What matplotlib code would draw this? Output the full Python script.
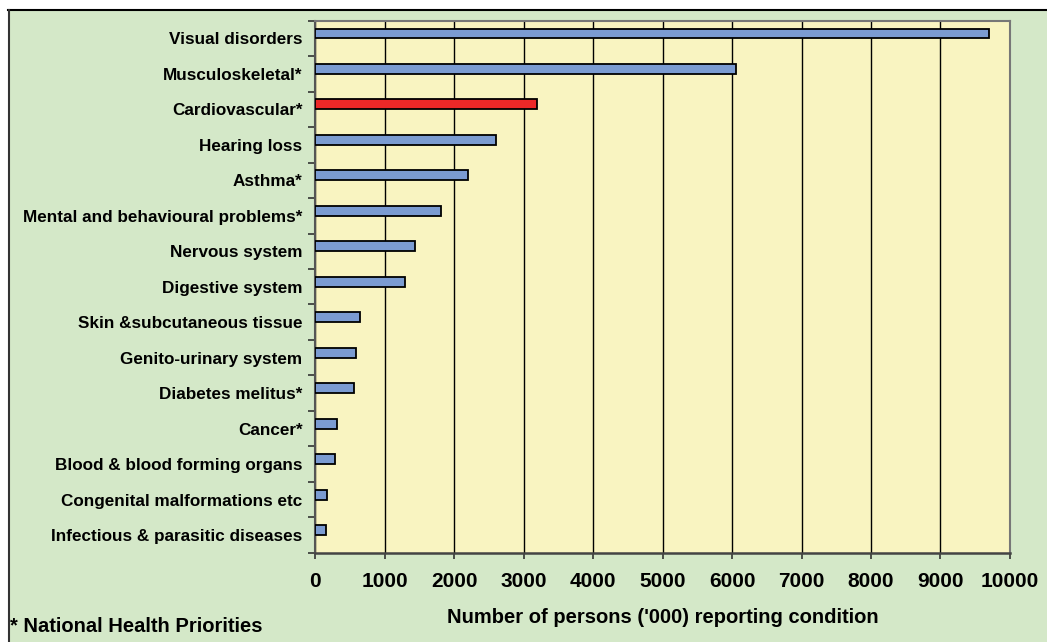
import matplotlib
matplotlib.use("Agg")
import matplotlib.pyplot as plt
import numpy as np

plt.rcParams['font.family'] = ['Liberation Sans', 'DejaVu Sans']

conditions = [
    "Visual disorders",
    "Musculoskeletal*",
    "Cardiovascular*",
    "Hearing loss",
    "Asthma*",
    "Mental and behavioural problems*",
    "Nervous system",
    "Digestive system",
    "Skin &subcutaneous tissue",
    "Genito-urinary system",
    "Diabetes melitus*",
    "Cancer*",
    "Blood & blood forming organs",
    "Congenital malformations etc",
    "Infectious & parasitic diseases",
]
persons_000 = [9700, 6060, 3190, 2600, 2200, 1820, 1440, 1300,
               650, 595, 555, 315, 290, 175, 160]
highlight = "Cardiovascular*"
x_ticks = [0, 1000, 2000, 3000, 4000, 5000, 6000, 7000, 8000, 9000, 10000]

bg_green = "#d4e8c8"
plot_yellow = "#f9f4c1"
bar_blue = "#7b9bd1"
bar_red = "#ec2828"

fig = plt.figure(figsize=(10.47, 6.42), dpi=100, facecolor=bg_green)
W, H = 1047, 642
ax = fig.add_axes([315 / W, 1 - 552.7 / H, (1010 - 315) / W, (552.7 - 20.7) / H])
ax.set_facecolor(plot_yellow)

n = len(conditions)
ypos = np.arange(n)
bar_shift = -0.14  # bars sit in the upper part of each category slot
colors = [bar_red if c == highlight else bar_blue for c in conditions]
ax.barh(ypos + bar_shift, persons_000, height=0.28, color=colors, edgecolor="black",
        linewidth=1.3, zorder=3)

ax.set_ylim(n - 0.5, -0.5)
ax.set_xlim(0, 10000)
ax.set_xticks(x_ticks)
ax.set_xticklabels([str(t) for t in x_ticks], fontsize=15, fontweight="bold")
ax.set_yticks(ypos)
ax.set_yticklabels(conditions, fontsize=12.3, fontweight="bold")
ax.tick_params(axis="y", which="major", length=0, pad=9)
ax.set_yticks(np.arange(-0.5, n, 1.0), minor=True)
ax.tick_params(axis="y", which="minor", length=5, width=1.2, color="#333333", direction="out")
ax.tick_params(axis="x", which="major", length=4, width=1.2, color="#333333",
               direction="out", pad=10)

ax.grid(axis="x", color="black", linewidth=1.0, zorder=1)
ax.set_axisbelow(True)

for side in ["top", "right"]:
    ax.spines[side].set_color("#777777")
    ax.spines[side].set_linewidth(1.5)
ax.spines["left"].set_color("#555555")
ax.spines["left"].set_linewidth(1.5)
ax.spines["bottom"].set_color("#444444")
ax.spines["bottom"].set_linewidth(1.8)

ax.set_xlabel("Number of persons ('000) reporting condition", fontsize=14.5,
              fontweight="bold", labelpad=12)

fig.text(10 / W, 1 - 627 / H, "* National Health Priorities", fontsize=14.5,
         fontweight="bold", va="center", ha="left")

# frame lines along top and left edges of the figure
fig.add_artist(plt.Line2D([8 / W, 1], [1 - 9.5 / H, 1 - 9.5 / H], color="black",
                          linewidth=1.5, transform=fig.transFigure))
fig.add_artist(plt.Line2D([8.5 / W, 8.5 / W], [0, 1 - 9.5 / H], color="#333333",
                          linewidth=1.5, transform=fig.transFigure))
# white strip outside the frame
fig.add_artist(plt.Rectangle((0, 1 - 9 / H), 1, 9 / H, color="white",
                             transform=fig.transFigure, zorder=-1))
fig.add_artist(plt.Rectangle((0, 0), 8 / W, 1, color="white",
                             transform=fig.transFigure, zorder=-1))

fig.savefig("out.png", dpi=100, facecolor=bg_green)
